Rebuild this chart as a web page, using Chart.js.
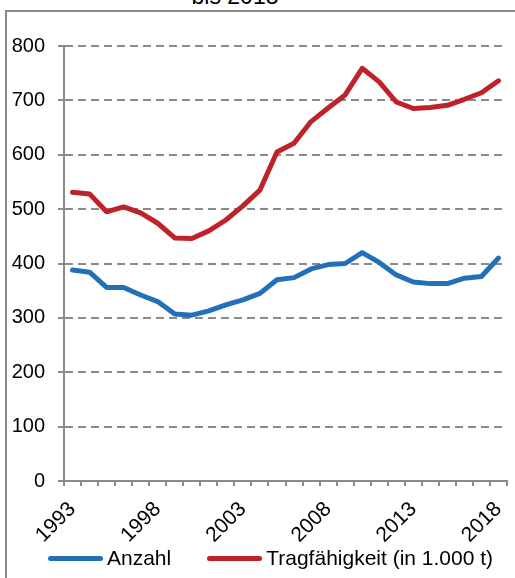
<!DOCTYPE html>
<html>
<head>
<meta charset="utf-8">
<script src="https://cdn.jsdelivr.net/npm/chart.js@4.4.1/dist/chart.umd.min.js"></script>
<style>
  html, body { margin: 0; padding: 0; background: #fff; overflow: hidden; }
  body { width: 515px; height: 578px; position: relative; font-family: "Liberation Sans", Arial, sans-serif; }
  #frame { position: absolute; left: 5px; top: 10px; width: 700px; height: 800px; border: 2px solid #8a8a8a; box-sizing: border-box; }
  #title { position: absolute; left: 0; width: 470px; top: -15px; text-align: center; font-size: 23px; line-height: 23px; color: #000; }
  #wrap { position: absolute; left: 0; top: 0; width: 515px; height: 578px; }
  #legend { position: absolute; left: 48px; top: 546px; height: 24px; display: flex; align-items: center; font-size: 21px; color: #000; white-space: nowrap; }
  .item { display: flex; align-items: center; }
  .swatch { display: inline-block; width: 55px; height: 5px; border-radius: 3px; margin-right: 4px; }
</style>
</head>
<body>
<div id="frame"></div>
<div id="title">bis 2018</div>
<div id="wrap"><canvas id="c"></canvas></div>
<div id="legend"></div>
<script>
const years = ["1993","1994","1995","1996","1997","1998","1999","2000","2001","2002","2003","2004","2005","2006","2007","2008","2009","2010","2011","2012","2013","2014","2015","2016","2017","2018"];
const anzahl = [388,384,356,356,342,330,307,305,313,324,333,345,370,374,390,398,400,420,402,379,366,363,363,373,376,410];
const tragfaehigkeit = [531,528,495,504,493,474,447,446,460,480,506,535,605,621,661,686,710,759,734,697,685,687,691,702,714,736];
const seriesNames = ["Anzahl", "Tragfähigkeit (in 1.000 t)"];
const yTicks = [0,100,200,300,400,500,600,700,800];

const GRAY = "#8a8a8a";
const BLUE = "#2271b8";
const RED = "#bd2329";
const FONT = "'Liberation Sans', Arial, sans-serif";

const colors = [BLUE, RED];
const legend = document.getElementById('legend');
seriesNames.forEach((n, i) => {
  const it = document.createElement('div');
  it.className = 'item';
  if (i > 0) it.style.marginLeft = '36px';
  const sw = document.createElement('span');
  sw.className = 'swatch';
  sw.style.background = colors[i];
  const tx = document.createElement('span');
  tx.textContent = n;
  it.appendChild(sw); it.appendChild(tx);
  legend.appendChild(it);
});

new Chart(document.getElementById('c'), {
  type: 'line',
  data: {
    labels: years,
    datasets: [
      { label: seriesNames[0], data: anzahl, borderColor: BLUE, backgroundColor: BLUE, borderWidth: 5, pointRadius: 0, tension: 0, borderJoinStyle: 'round', borderCapStyle: 'round', fill: false },
      { label: seriesNames[1], data: tragfaehigkeit, borderColor: RED, backgroundColor: RED, borderWidth: 5, pointRadius: 0, tension: 0, borderJoinStyle: 'round', borderCapStyle: 'round', fill: false }
    ]
  },
  options: {
    responsive: true,
    maintainAspectRatio: false,
    animation: false,
    devicePixelRatio: 1,
    layout: { padding: { left: 0, right: 8, top: 46, bottom: 0 } },
    plugins: { legend: { display: false }, title: { display: false }, tooltip: { enabled: false } },
    scales: {
      x: {
        type: 'category',
        offset: true,
        grid: { offset: true, drawOnChartArea: false, drawTicks: true, tickLength: 5, color: GRAY, lineWidth: 2 },
        border: { display: true, color: GRAY, width: 2 },
        ticks: {
          autoSkip: false, minRotation: 45, maxRotation: 45, padding: 11, color: '#000',
          font: { size: 21, family: FONT },
          callback: function(v, i) { return i % 5 === 0 ? years[i] : ''; }
        },
        afterFit: function(s) { s.height = 97; s.paddingLeft = 0; s.paddingRight = 0; }
      },
      y: {
        min: 0, max: 800,
        afterBuildTicks: function(s) { s.ticks = yTicks.map(v => ({ value: v })); },
        grid: { color: GRAY, lineWidth: 2, drawTicks: true, tickLength: 6, tickBorderDash: [] },
        border: { display: true, color: GRAY, width: 2, dash: [8, 5] },
        ticks: { padding: 13, color: '#000', font: { size: 20, family: FONT } },
        afterFit: function(s) { s.width = 64; s.paddingTop = 0; s.paddingBottom = 0; }
      }
    }
  }
});
</script>
</body>
</html>
